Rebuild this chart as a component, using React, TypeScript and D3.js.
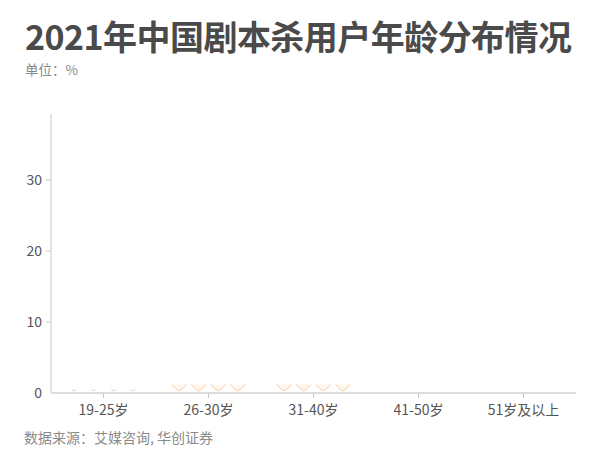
import React from 'react';
import * as d3 from 'd3';

// categories and the (mid-animation) bar heights, in %
const categories = ['19-25岁', '26-30岁', '31-40岁', '41-50岁', '51岁及以上'];
const values = [0.5, 1.2, 1.2, 0, 0];
const yTicks = [0, 10, 20, 30];
const symbolsPerBar = 4;

const title = '2021年中国剧本杀用户年龄分布情况';
const unit = '单位：%';
const source = '数据来源：艾媒咨询, 华创证券';

const width = 600;
const height = 470;
const margin = { top: 114, right: 24, bottom: 77, left: 51 };
const font = '"Noto Sans CJK SC", "Noto Sans", sans-serif';

// heart shaped icon, tip at (0,0), pointing down
const heart =
  'M0,0 C-2.5,-2 -7.5,-4.5 -7.5,-8.5 C-7.5,-11.5 -5.5,-13 -3.6,-13 C-2,-13 -0.7,-12 0,-10.8 ' +
  'C0.7,-12 2,-13 3.6,-13 C5.5,-13 7.5,-11.5 7.5,-8.5 C7.5,-4.5 2.5,-2 0,0 Z';

const App: React.FC = () => {
  const x = d3
    .scaleBand<string>()
    .domain(categories)
    .range([margin.left, width - margin.right]);

  const y = d3
    .scaleLinear()
    .domain([0, 39.3])
    .range([height - margin.bottom, margin.top]);

  const pitch = 19.6;
  const base = y(0);

  return (
    <svg
      width={width}
      height={height}
      style={{ position: 'absolute', left: 0, top: 0, background: '#fff' }}
      fontFamily={font}
    >
      <defs>
        {categories.map((c, i) => (
          <clipPath id={`clip-${i}`} key={c}>
            <rect
              x={x(c)!}
              y={y(values[i])}
              width={x.bandwidth()}
              height={Math.max(0, base - y(values[i]))}
            />
          </clipPath>
        ))}
      </defs>

      <text
        x={25}
        y={50}
        fontSize={34}
        fontWeight="bold"
        fill="#4a4a4a"
        textLength={547}
        lengthAdjust="spacing"
      >
        {title}
      </text>
      <text x={25} y={75} fontSize={13.5} fill="#8a8a8a">
        {unit}
      </text>

      {/* y axis */}
      <line x1={margin.left} x2={margin.left} y1={margin.top} y2={base} stroke="#c8c8c8" />
      {yTicks.map((t) => (
        <g key={t}>
          {t > 0 && (
            <line x1={margin.left - 5} x2={margin.left} y1={y(t)} y2={y(t)} stroke="#c8c8c8" />
          )}
          <text
            x={margin.left - 9}
            y={y(t)}
            dy="0.35em"
            textAnchor="end"
            fontSize={14}
            fill="#555"
          >
            {t}
          </text>
        </g>
      ))}

      {/* pictorial bars */}
      {categories.map((c, i) => {
        const cx = x(c)! + x.bandwidth() / 2;
        return (
          <g key={c} clipPath={`url(#clip-${i})`}>
            {d3.range(symbolsPerBar).map((k) => (
              <path
                key={k}
                d={heart}
                transform={`translate(${cx + (k - (symbolsPerBar - 1) / 2) * pitch},${base - 2})`}
                fill="#fff6ee"
                stroke="#f9bb8c"
                strokeWidth={1}
                strokeOpacity={0.8}
              />
            ))}
          </g>
        );
      })}

      {/* x axis */}
      <line
        x1={margin.left}
        x2={width - margin.right}
        y1={base}
        y2={base}
        stroke="#dcdcdc"
        strokeWidth={2}
      />
      {categories.map((c) => {
        const cx = x(c)! + x.bandwidth() / 2;
        return (
          <g key={c}>
            <line x1={cx} x2={cx} y1={base} y2={base + 5} stroke="#c8c8c8" />
            <text x={cx} y={415} textAnchor="middle" fontSize={14} fill="#555">
              {c}
            </text>
          </g>
        );
      })}

      <text x={24} y={443} fontSize={14} fill="#8a8a8a">
        {source}
      </text>
    </svg>
  );
};

export default App;
